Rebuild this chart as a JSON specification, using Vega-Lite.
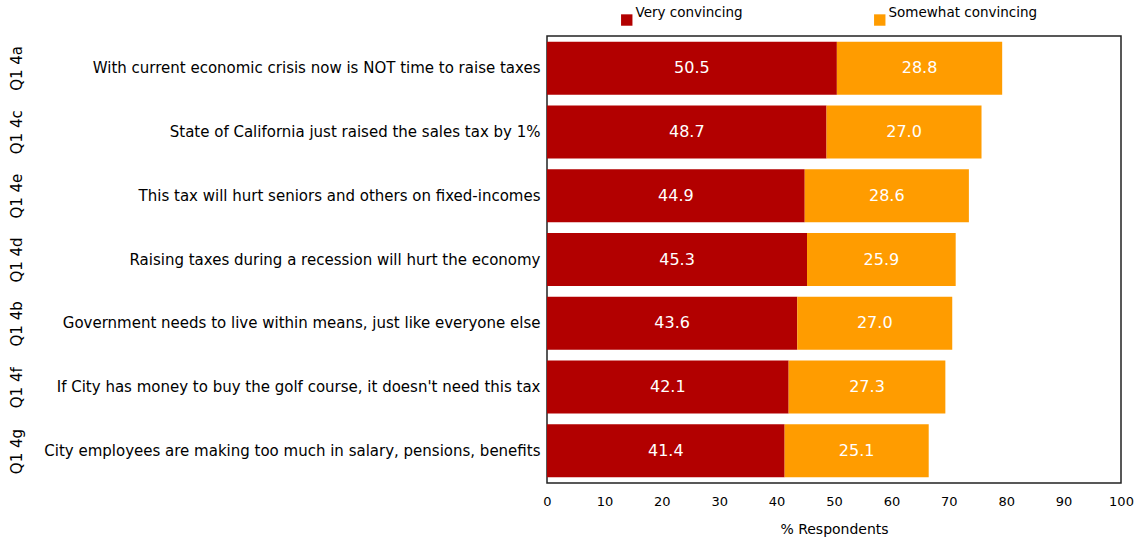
{
  "$schema": "https://vega.github.io/schema/vega-lite/v6.json",
  "autosize": {"type": "none"},
  "width": 574,
  "height": 447,
  "padding": {"left": 547, "top": 36, "right": 16, "bottom": 58},
  "background": "white",
  "config": {
    "font": "DejaVu Sans",
    "view": {"stroke": "#222", "strokeWidth": 1.5},
    "axis": {"labelColor": "#000", "titleColor": "#000", "labelFont": "DejaVu Sans", "titleFont": "DejaVu Sans"}
  },
  "data": {
    "values": [
      {"q": "Q1 4a", "statement": "With current economic crisis now is NOT time to raise taxes", "level": "Very convincing", "rank": 1, "value": 50.5},
      {"q": "Q1 4a", "statement": "With current economic crisis now is NOT time to raise taxes", "level": "Somewhat convincing", "rank": 2, "value": 28.8},
      {"q": "Q1 4c", "statement": "State of California just raised the sales tax by 1%", "level": "Very convincing", "rank": 1, "value": 48.7},
      {"q": "Q1 4c", "statement": "State of California just raised the sales tax by 1%", "level": "Somewhat convincing", "rank": 2, "value": 27.0},
      {"q": "Q1 4e", "statement": "This tax will hurt seniors and others on fixed-incomes", "level": "Very convincing", "rank": 1, "value": 44.9},
      {"q": "Q1 4e", "statement": "This tax will hurt seniors and others on fixed-incomes", "level": "Somewhat convincing", "rank": 2, "value": 28.6},
      {"q": "Q1 4d", "statement": "Raising taxes during a recession will hurt the economy", "level": "Very convincing", "rank": 1, "value": 45.3},
      {"q": "Q1 4d", "statement": "Raising taxes during a recession will hurt the economy", "level": "Somewhat convincing", "rank": 2, "value": 25.9},
      {"q": "Q1 4b", "statement": "Government needs to live within means, just like everyone else", "level": "Very convincing", "rank": 1, "value": 43.6},
      {"q": "Q1 4b", "statement": "Government needs to live within means, just like everyone else", "level": "Somewhat convincing", "rank": 2, "value": 27.0},
      {"q": "Q1 4f", "statement": "If City has money to buy the golf course, it doesn't need this tax", "level": "Very convincing", "rank": 1, "value": 42.1},
      {"q": "Q1 4f", "statement": "If City has money to buy the golf course, it doesn't need this tax", "level": "Somewhat convincing", "rank": 2, "value": 27.3},
      {"q": "Q1 4g", "statement": "City employees are making too much in salary, pensions, benefits", "level": "Very convincing", "rank": 1, "value": 41.4},
      {"q": "Q1 4g", "statement": "City employees are making too much in salary, pensions, benefits", "level": "Somewhat convincing", "rank": 2, "value": 25.1}
    ]
  },
  "resolve": {"scale": {"y": "independent"}, "axis": {"y": "independent"}},
  "layer": [
    {
      "mark": {"type": "bar"},
      "encoding": {
        "y": {
          "field": "statement", "type": "nominal",
          "sort": ["With current economic crisis now is NOT time to raise taxes", "State of California just raised the sales tax by 1%", "This tax will hurt seniors and others on fixed-incomes", "Raising taxes during a recession will hurt the economy", "Government needs to live within means, just like everyone else", "If City has money to buy the golf course, it doesn't need this tax", "City employees are making too much in salary, pensions, benefits"],
          "scale": {"paddingInner": 0.17, "paddingOuter": 0.09},
          "axis": {"orient": "left", "title": null, "ticks": false, "domain": false, "labelPadding": 7, "labelFontSize": 15, "labelLimit": 600}
        },
        "x": {
          "field": "value", "type": "quantitative", "stack": "zero",
          "scale": {"domain": [0, 100], "nice": false},
          "axis": {"title": "% Respondents", "titleFontSize": 14, "titleFontWeight": "normal", "titlePadding": 14, "values": [0, 10, 20, 30, 40, 50, 60, 70, 80, 90, 100], "grid": false, "ticks": false, "domain": false, "labelFontSize": 13, "labelPadding": 12, "labelFlush": false}
        },
        "color": {
          "field": "level", "type": "nominal",
          "scale": {"domain": ["Very convincing", "Somewhat convincing"], "range": ["#B20000", "#FF9C00"]},
          "legend": {"title": null, "orient": "none", "legendX": 73, "legendY": -23, "direction": "horizontal", "symbolType": "square", "symbolSize": 130, "symbolStrokeWidth": 0, "labelFontSize": 13.5, "labelOffset": 2, "columnPadding": 130, "labelBaseline": "bottom"}
        },
        "order": {"field": "rank", "type": "quantitative"}
      }
    },
    {
      "mark": {"type": "text", "color": "white", "fontSize": 16, "baseline": "middle", "align": "center"},
      "encoding": {
        "y": {
          "field": "q", "type": "nominal",
          "sort": ["Q1 4a", "Q1 4c", "Q1 4e", "Q1 4d", "Q1 4b", "Q1 4f", "Q1 4g"],
          "scale": {"paddingInner": 0.17, "paddingOuter": 0.09},
          "axis": {"orient": "left", "title": null, "ticks": false, "domain": false, "labelAngle": -90, "labelAlign": "center", "labelBaseline": "middle", "labelPadding": 531, "labelFontSize": 15}
        },
        "x": {"field": "value", "type": "quantitative", "stack": "zero", "bandPosition": 0.5},
        "detail": {"field": "level", "type": "nominal"},
        "order": {"field": "rank", "type": "quantitative"},
        "text": {"field": "value", "type": "quantitative", "format": ".1f"}
      }
    }
  ]
}
